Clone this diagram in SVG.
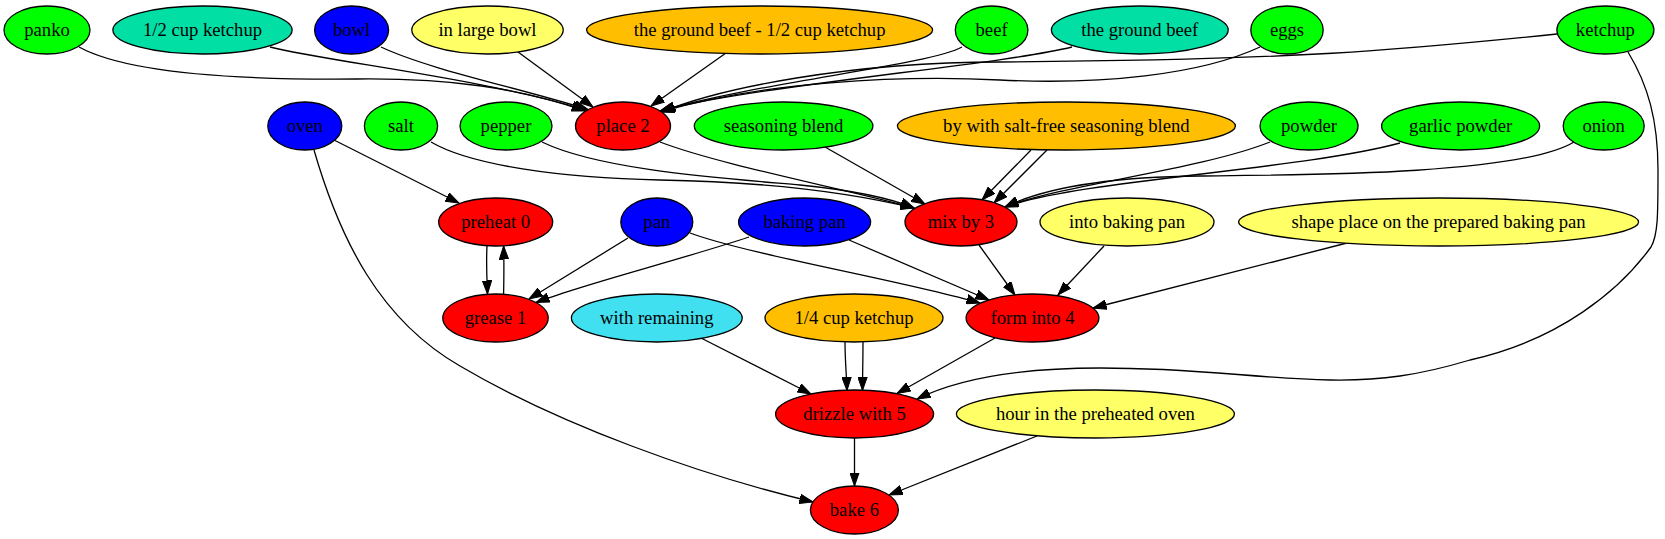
<svg xmlns="http://www.w3.org/2000/svg" width="1665" height="539" viewBox="0 0 1665 539">
<style>
.n ellipse{stroke:#000;stroke-width:1.3}
.n text{font-family:"Liberation Serif","Times New Roman",serif;font-size:18.67px;text-anchor:middle;fill:#000}
.g{fill:#00ff00}.b{fill:#0000ff}.y{fill:#ffff66}.o{fill:#ffbf00}.t{fill:#01dfa5}.r{fill:#ff0000}.c{fill:#40e0f0}
#edges path{fill:none;stroke:#000;stroke-width:1.3;marker-end:url(#ah)}
</style>
<defs>
<marker id="ah" viewBox="0 0 14 10" refX="13.5" refY="5" markerWidth="14" markerHeight="10" markerUnits="userSpaceOnUse" orient="auto">
<path d="M0,0.3 L13.5,5 L0,9.7 z" fill="#000" stroke="#000" stroke-width="1"/>
</marker>
</defs>
<rect width="1665" height="539" fill="#fff"/>
<g id="edges">
<path d="M79,47 C130,75 250,80 357,79 C450,78 520,88 585,111"/>
<path d="M270,47 C330,62 480,78 586,110"/>
<path d="M381,47 C430,70 520,88 588,109.5"/>
<path d="M518,52 L593,107"/>
<path d="M726,53 L651,106"/>
<path d="M962,47 C930,65 760,82 660,111"/>
<path d="M1072,47 C1000,65 750,86 660,111"/>
<path d="M1260,47 C1200,75 1100,85 1000,80 C900,75 760,82 661,112"/>
<path d="M1557,34 C1400,50 1300,60 1000,62 C850,62 720,88 662,112"/>
<path d="M431,142 C470,165 560,178 660,180 C780,182 860,195 914,208"/>
<path d="M542,142 C600,170 720,178 800,185 C850,190 890,198 914,208"/>
<path d="M660,142 C720,165 850,190 914,208"/>
<path d="M825,147 L925,204"/>
<path d="M1031,150 L982,200"/>
<path d="M1047,150 L994,203"/>
<path d="M1270,142 C1200,170 1060,185 1005,207"/>
<path d="M1400,143 C1300,170 1080,180 1005,207"/>
<path d="M1574,142 C1520,175 1300,175 1200,176 C1100,177 1040,190 1005,207"/>
<path d="M334,140 L459,203"/>
<path d="M314,150 C340,240 380,320 460,366 C560,425 700,475 813,502"/>
<path d="M487,246 C486,265 487,280 487.5,294"/>
<path d="M503.6,294 C504,275 504,260 503.6,246"/>
<path d="M628,238 L529,299"/>
<path d="M749,237 C680,260 580,285 536,302.5"/>
<path d="M690,233 C750,255 900,280 980,303"/>
<path d="M849,240 L989,300"/>
<path d="M979,245 L1015,295"/>
<path d="M1104,246 L1058,295"/>
<path d="M1347,243 L1093,308"/>
<path d="M995,338 L897,393.5"/>
<path d="M701,338 L811,394"/>
<path d="M845,342 C845,360 846.5,375 847,390.5"/>
<path d="M863,342 C863,360 862.5,375 862.5,390.5"/>
<path d="M1628,52 C1648,85 1658,120 1658,170 C1658,215 1658,235 1651,247 C1620,290 1560,340 1470,360 C1420,375 1380,381 1330,380 C1250,378 1200,368 1100,368 C1020,368 960,378 917,399"/>
<path d="M854.5,438 L854.5,486"/>
<path d="M1037,436 L889,495"/>
</g>
<g id="panko" class="n"><ellipse class="g" cx="47" cy="30" rx="43" ry="24"/><text x="47" y="36">panko</text></g>
<g id="half_cup_ketchup" class="n"><ellipse class="t" cx="202.5" cy="30" rx="89.6" ry="24"/><text x="202.5" y="36">1/2 cup ketchup</text></g>
<g id="bowl" class="n"><ellipse class="b" cx="351.6" cy="30" rx="37" ry="24"/><text x="351.6" y="36">bowl</text></g>
<g id="in_large_bowl" class="n"><ellipse class="y" cx="487.5" cy="30" rx="75.7" ry="24"/><text x="487.5" y="36">in large bowl</text></g>
<g id="ground_beef_ketchup" class="n"><ellipse class="o" cx="759.6" cy="30" rx="173" ry="24"/><text x="759.6" y="36">the ground beef - 1/2 cup ketchup</text></g>
<g id="beef" class="n"><ellipse class="g" cx="991.6" cy="30" rx="36.3" ry="24"/><text x="991.6" y="36">beef</text></g>
<g id="the_ground_beef" class="n"><ellipse class="t" cx="1139.8" cy="30" rx="88.4" ry="24"/><text x="1139.8" y="36">the ground beef</text></g>
<g id="eggs" class="n"><ellipse class="g" cx="1287" cy="30" rx="36.2" ry="24"/><text x="1287" y="36">eggs</text></g>
<g id="ketchup" class="n"><ellipse class="g" cx="1605.4" cy="30" rx="48.5" ry="24"/><text x="1605.4" y="36">ketchup</text></g>
<g id="oven" class="n"><ellipse class="b" cx="304.8" cy="126" rx="37" ry="24"/><text x="304.8" y="132">oven</text></g>
<g id="salt" class="n"><ellipse class="g" cx="401" cy="126" rx="36.6" ry="24"/><text x="401" y="132">salt</text></g>
<g id="pepper" class="n"><ellipse class="g" cx="506" cy="126" rx="46" ry="24"/><text x="506" y="132">pepper</text></g>
<g id="place2" class="n"><ellipse class="r" cx="623" cy="126" rx="47.5" ry="24"/><text x="623" y="132">place 2</text></g>
<g id="seasoning_blend" class="n"><ellipse class="g" cx="783.6" cy="126" rx="89.3" ry="24"/><text x="783.6" y="132">seasoning blend</text></g>
<g id="by_with_salt_free" class="n"><ellipse class="o" cx="1066.4" cy="126" rx="169" ry="24"/><text x="1066.4" y="132">by with salt-free seasoning blend</text></g>
<g id="powder" class="n"><ellipse class="g" cx="1309" cy="126" rx="49" ry="24"/><text x="1309" y="132">powder</text></g>
<g id="garlic_powder" class="n"><ellipse class="g" cx="1460.6" cy="126" rx="79" ry="24"/><text x="1460.6" y="132">garlic powder</text></g>
<g id="onion" class="n"><ellipse class="g" cx="1603.7" cy="126" rx="40.5" ry="24"/><text x="1603.7" y="132">onion</text></g>
<g id="preheat0" class="n"><ellipse class="r" cx="495.7" cy="222" rx="57" ry="24"/><text x="495.7" y="228">preheat 0</text></g>
<g id="pan" class="n"><ellipse class="b" cx="656.8" cy="222" rx="36" ry="24"/><text x="656.8" y="228">pan</text></g>
<g id="baking_pan" class="n"><ellipse class="b" cx="804.6" cy="222" rx="66" ry="24"/><text x="804.6" y="228">baking pan</text></g>
<g id="mix3" class="n"><ellipse class="r" cx="961" cy="222" rx="56" ry="24"/><text x="961" y="228">mix by 3</text></g>
<g id="into_baking_pan" class="n"><ellipse class="y" cx="1127" cy="222" rx="87" ry="24"/><text x="1127" y="228">into baking pan</text></g>
<g id="shape_place" class="n"><ellipse class="y" cx="1438.6" cy="222" rx="200" ry="24"/><text x="1438.6" y="228">shape place on the prepared baking pan</text></g>
<g id="grease1" class="n"><ellipse class="r" cx="495.5" cy="318" rx="52.7" ry="24"/><text x="495.5" y="324">grease 1</text></g>
<g id="with_remaining" class="n"><ellipse class="c" cx="656.8" cy="318" rx="85.4" ry="24"/><text x="656.8" y="324">with remaining</text></g>
<g id="quarter_cup_ketchup" class="n"><ellipse class="o" cx="854" cy="318" rx="89" ry="24"/><text x="854" y="324">1/4 cup ketchup</text></g>
<g id="form4" class="n"><ellipse class="r" cx="1032.5" cy="318" rx="66.4" ry="24"/><text x="1032.5" y="324">form into 4</text></g>
<g id="drizzle5" class="n"><ellipse class="r" cx="854.6" cy="414" rx="79" ry="24"/><text x="854.6" y="420">drizzle with 5</text></g>
<g id="hour" class="n"><ellipse class="y" cx="1095.4" cy="414" rx="139" ry="24"/><text x="1095.4" y="420">hour in the preheated oven</text></g>
<g id="bake6" class="n"><ellipse class="r" cx="854.4" cy="510" rx="44" ry="24"/><text x="854.4" y="516">bake 6</text></g>
</svg>
